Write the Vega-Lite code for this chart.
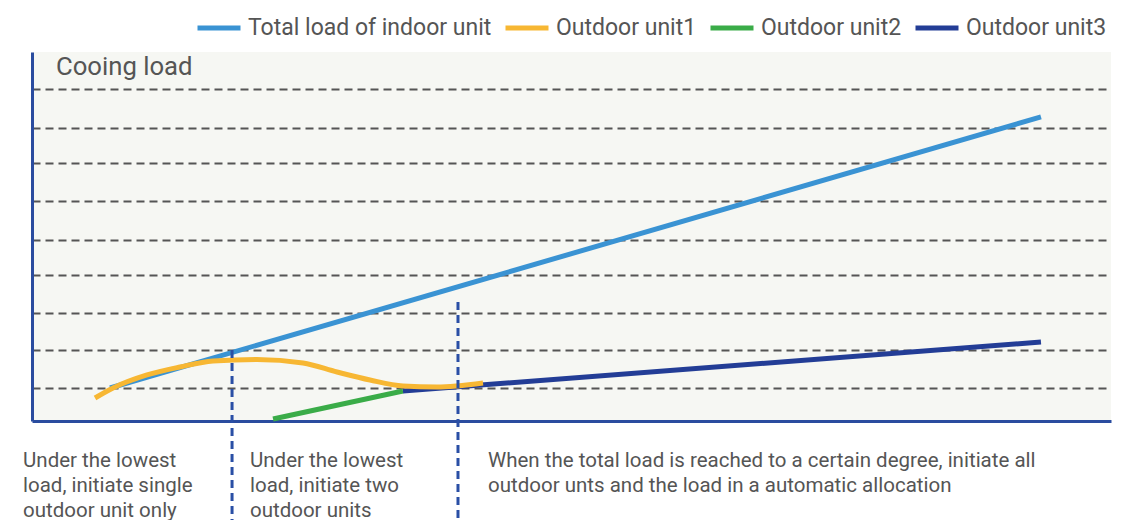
{
  "$schema": "https://vega.github.io/schema/vega-lite/v6.json",
  "width": 1079,
  "height": 369,
  "autosize": {"type": "none"},
  "padding": {"left": 32, "top": 52, "right": 26, "bottom": 99},
  "background": "white",
  "config": {
    "view": {"fill": "#f6f7f3", "stroke": null},
    "font": "Roboto",
    "legend": {
      "orient": "none",
      "legendX": 163,
      "legendY": -48,
      "direction": "horizontal",
      "symbolType": "stroke",
      "symbolSize": 1849,
      "symbolStrokeWidth": 5,
      "labelFontSize": 23,
      "labelColor": "#555555",
      "labelFont": "Roboto",
      "labelOffset": 5,
      "labelLimit": 400,
      "columnPadding": 3,
      "padding": 0
    }
  },
  "datasets": {
    "lines": [
      {"series": "Total load of indoor unit", "x": 7.23, "y": 0.894},
      {"series": "Total load of indoor unit", "x": 93.51, "y": 8.24},
      {"series": "Outdoor unit2", "x": 22.34, "y": 0.054},
      {"series": "Outdoor unit2", "x": 34.38, "y": 0.813},
      {"series": "Outdoor unit3", "x": 34.38, "y": 0.813},
      {"series": "Outdoor unit3", "x": 93.51, "y": 2.141},
      {"series": "Outdoor unit1", "x": 5.84, "y": 0.623},
      {"series": "Outdoor unit1", "x": 7.51, "y": 0.894},
      {"series": "Outdoor unit1", "x": 10.66, "y": 1.247},
      {"series": "Outdoor unit1", "x": 13.72, "y": 1.463},
      {"series": "Outdoor unit1", "x": 16.77, "y": 1.626},
      {"series": "Outdoor unit1", "x": 20.85, "y": 1.667},
      {"series": "Outdoor unit1", "x": 25.12, "y": 1.572},
      {"series": "Outdoor unit1", "x": 28.27, "y": 1.328},
      {"series": "Outdoor unit1", "x": 31.33, "y": 1.111},
      {"series": "Outdoor unit1", "x": 34.38, "y": 0.949},
      {"series": "Outdoor unit1", "x": 37.53, "y": 0.921},
      {"series": "Outdoor unit1", "x": 41.8, "y": 1.03}
    ],
    "dividers": [
      {"x": 18.54, "y": 1.924, "y2": -2.7},
      {"x": 39.48, "y": 3.225, "y2": -2.7}
    ],
    "notes": [
      {"x": 2.22, "y": 9.38, "text": "Cooing load", "kind": "title"},
      {"x": -0.83, "y": -1.24, "text": "Under the lowest\nload, initiate single\noutdoor unit only", "kind": "note"},
      {"x": 20.2, "y": -1.24, "text": "Under the lowest\nload, initiate two\noutdoor units", "kind": "note"},
      {"x": 42.26, "y": -1.24, "text": "When the total load is reached to a certain degree, initiate all\noutdoor unts and the load in a automatic allocation", "kind": "note"}
    ]
  },
  "layer": [
    {
      "data": {"name": "lines"},
      "transform": [{"filter": "datum.series !== 'Outdoor unit1'"}],
      "mark": {"type": "line", "strokeWidth": 5, "strokeCap": "butt", "clip": false},
      "encoding": {
        "x": {
          "field": "x", "type": "quantitative",
          "scale": {"domain": [0, 100], "nice": false, "zero": false},
          "axis": {"domain": true, "domainColor": "#2a4c9f", "domainWidth": 3, "ticks": false, "labels": false, "grid": false, "title": null}
        },
        "y": {
          "field": "y", "type": "quantitative",
          "scale": {"domain": [0, 10], "nice": false, "zero": false},
          "axis": {
            "domain": true, "domainColor": "#2a4c9f", "domainWidth": 3, "ticks": false, "labels": false, "title": null,
            "grid": true, "gridColor": "#555555", "gridWidth": 1.8, "gridDash": [8, 5],
            "values": [0.894, 1.924, 2.927, 3.957, 4.905, 5.962, 6.992, 7.94, 8.997]
          }
        },
        "color": {
          "field": "series", "type": "nominal",
          "scale": {
            "domain": ["Total load of indoor unit", "Outdoor unit1", "Outdoor unit2", "Outdoor unit3"],
            "range": ["#3a93d3", "#f7b733", "#3aac48", "#233d96"]
          },
          "legend": {"title": null}
        },
        "detail": {"field": "series"}
      }
    },
    {
      "data": {"name": "lines"},
      "transform": [{"filter": "datum.series === 'Outdoor unit1'"}],
      "mark": {"type": "line", "strokeWidth": 5, "strokeCap": "butt", "interpolate": "monotone", "clip": false},
      "encoding": {
        "x": {"field": "x", "type": "quantitative"},
        "y": {"field": "y", "type": "quantitative"},
        "color": {"field": "series", "type": "nominal"}
      }
    },
    {
      "data": {"name": "dividers"},
      "mark": {"type": "rule", "color": "#2a4fa5", "strokeWidth": 3, "strokeDash": [8, 5], "clip": false},
      "encoding": {
        "x": {"field": "x", "type": "quantitative"},
        "y": {"field": "y", "type": "quantitative"},
        "y2": {"field": "y2"}
      }
    },
    {
      "data": {"name": "notes"},
      "transform": [{"filter": "datum.kind === 'note'"}],
      "mark": {"type": "text", "align": "left", "baseline": "alphabetic", "fontSize": 20.5, "lineHeight": 25, "lineBreak": "\n", "color": "#555555", "clip": false},
      "encoding": {
        "x": {"field": "x", "type": "quantitative"},
        "y": {"field": "y", "type": "quantitative"},
        "text": {"field": "text"}
      }
    },
    {
      "data": {"name": "notes"},
      "transform": [{"filter": "datum.kind === 'title'"}],
      "mark": {"type": "text", "align": "left", "baseline": "alphabetic", "fontSize": 25.7, "color": "#555555", "clip": false},
      "encoding": {
        "x": {"field": "x", "type": "quantitative"},
        "y": {"field": "y", "type": "quantitative"},
        "text": {"field": "text"}
      }
    }
  ]
}
